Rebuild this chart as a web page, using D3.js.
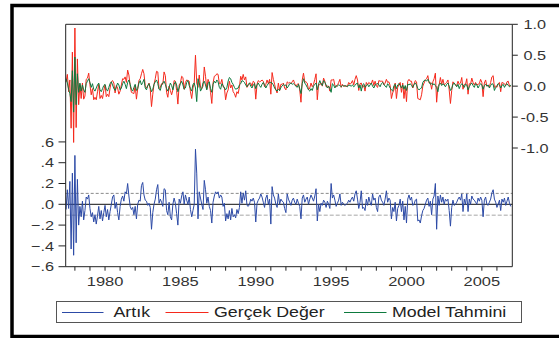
<!DOCTYPE html>
<html>
<head>
<meta charset="utf-8">
<script src="https://cdn.jsdelivr.net/npm/d3@7"></script>
<style>
  body{margin:0;background:#fff;}
  svg{display:block;}
  text{font-family:"Liberation Sans",Arial,sans-serif;}
</style>
</head>
<body>
<svg id="chart"></svg>
<script>
// monthly observations, 1977M06 .. 2006M12
const START_YEAR = 1977, START_MONTH = 6;

const artik = [
  -0.05, 0.14,-0.04, 0.22,-0.43, 0.30,-0.49,
   0.47,-0.37, 0.24,-0.20,-0.02,-0.12, 0.03,-0.15,-0.06, 0.07, 0.05, 0.09,
  -0.04,-0.12,-0.08,-0.17,-0.10,-0.19,-0.11,-0.02,-0.14,-0.06,-0.16,-0.08,
  -0.01,-0.12,-0.05,-0.15,-0.07, 0.00, 0.07, 0.09,-0.04, 0.02,-0.08,-0.15,
  -0.02, 0.05, 0.08, 0.03, 0.12, 0.10, 0.20, 0.08,-0.02,-0.05,-0.03,-0.10,
  -0.02,-0.14, 0.00, 0.04, 0.03, 0.18, 0.21, 0.09, 0.04, 0.03,-0.01, 0.01,
  -0.03,-0.24,-0.08, 0.00, 0.05, 0.14, 0.19, 0.01, 0.05, 0.02,-0.02, 0.15,
   0.14,-0.06,-0.10, 0.02,-0.12,-0.15, 0.00, 0.06, 0.01,-0.09,-0.20, 0.05,
   0.01, 0.08, 0.12, 0.00, 0.09, 0.04, 0.00, 0.07,-0.05,-0.12,-0.06, 0.00,
   0.53, 0.30,-0.14, 0.12, 0.06, 0.00,-0.05, 0.23, 0.14, 0.01, 0.07,-0.02,
  -0.06,-0.18, 0.02, 0.08, 0.12, 0.10, 0.12, 0.06, 0.09, 0.07,-0.02, 0.01,
  -0.16,-0.09,-0.14,-0.06,-0.15,-0.04,-0.12,-0.10,-0.13,-0.05,-0.09,-0.03,
   0.12, 0.01, 0.11, 0.04, 0.13,-0.01,-0.02, 0.00, 0.05, 0.03, 0.06, 0.02,
  -0.17, 0.01, 0.04, 0.06, 0.10, 0.07, 0.02,-0.03, 0.06, 0.09, 0.00, 0.05,
  -0.19, 0.17, 0.09, 0.06, 0.00,-0.03, 0.10, 0.00, 0.05, 0.03, 0.02,-0.04,
  -0.08, 0.10, 0.05, 0.02,-0.01, 0.04, 0.06, 0.02, 0.00, 0.05, 0.01,-0.02,
  -0.14, 0.06, 0.09, 0.02, 0.05, 0.07, 0.00, 0.05, 0.09, 0.06, 0.03, 0.08,
   0.15,-0.16, 0.00,-0.07, 0.01,-0.01, 0.04, 0.02,-0.03, 0.03, 0.00,-0.04,
   0.20, 0.06, 0.09, 0.04,-0.02, 0.01, 0.04, 0.10,-0.01, 0.02, 0.00,-0.01,
   0.00, 0.01, 0.04, 0.02, 0.05, 0.07, 0.03, 0.10, 0.13, 0.05,-0.04, 0.02,
   0.13,-0.04,-0.03,-0.06, 0.05,-0.01, 0.07, 0.02,-0.01, 0.10, 0.04, 0.06,
  -0.03,-0.07, 0.07, 0.09, 0.04, 0.02,-0.01, 0.05, 0.13, 0.02, 0.06, 0.04,
  -0.14,-0.03,-0.07, 0.02,-0.16,-0.04,-0.01, 0.05,-0.07, 0.03,-0.15,-0.02,
  -0.18, 0.05, 0.09, 0.04, 0.07,-0.01, 0.00, 0.04, 0.05,-0.16,-0.15,-0.18,
  -0.11,-0.06,-0.04, 0.00, 0.04, 0.06,-0.02, 0.03,-0.10, 0.05, 0.08, 0.20,
  -0.24, 0.08,-0.01, 0.09, 0.02, 0.07, 0.00, 0.05, 0.03, 0.05,-0.06,-0.21,
  -0.03, 0.04,-0.01, 0.00, 0.02, 0.05, 0.07, 0.04, 0.10,-0.07, 0.05, 0.00,
   0.10,-0.07, 0.05, 0.00, 0.08, 0.05, 0.04, 0.02, 0.00, 0.06, 0.03, 0.07,
   0.04,-0.12, 0.04, 0.07, 0.00,-0.01, 0.02, 0.05, 0.11, 0.14, 0.05, 0.02,
  -0.03, 0.00, 0.04,-0.06, 0.05, 0.02, 0.06,-0.01, 0.03, 0.07, 0.01,-0.02
];

const tahmin = [
   0.12, 0.05,-0.05,-0.12,-0.25, 0.25,-0.42,
   0.47,-0.30, 0.20,-0.10, 0.05,-0.08, 0.02,-0.06,-0.10, 0.04, 0.08, 0.12,
   0.06,-0.02, 0.04,-0.05,-0.08,-0.03, 0.02, 0.05,-0.06,-0.09,-0.04, 0.01,
   0.03,-0.05,-0.08,-0.02, 0.04, 0.07, 0.02,-0.04,-0.07,-0.01, 0.05, 0.02,
  -0.06,-0.03, 0.04, 0.08, 0.03,-0.04, 0.06, 0.10, 0.03,-0.05,-0.08,-0.02,
   0.03,-0.07,-0.04, 0.05, 0.09, 0.02, 0.06, 0.11,-0.03,-0.06, 0.01, 0.04,
  -0.02,-0.09,-0.05, 0.03, 0.07, 0.10, 0.04,-0.05,-0.07, 0.02, 0.05, 0.08,
   0.03,-0.04,-0.08,-0.02, 0.05, 0.01,-0.06, 0.03, 0.07, 0.02,-0.09,-0.03,
   0.04, 0.08, 0.02,-0.05,-0.03, 0.06, 0.09, 0.01,-0.04,-0.08, 0.03, 0.05,
  -0.03,-0.25, 0.12, 0.06,-0.08,-0.04, 0.05, 0.08, 0.02,-0.06, 0.04, 0.07,
  -0.04,-0.10, 0.03, 0.08, 0.05, 0.10, 0.07,-0.02,-0.05, 0.04, 0.01,-0.03,
  -0.06,-0.02, 0.08, 0.14, 0.12, 0.06, 0.03,-0.02,-0.05,-0.04,-0.03, 0.02,
   0.04, 0.09, 0.08, 0.06, 0.02,-0.01, 0.03, 0.05, 0.00,-0.03, 0.02, 0.04,
  -0.04, 0.02, 0.05, 0.01,-0.02, 0.03, 0.06, 0.02,-0.03, 0.01, 0.04, 0.06,
   0.06, 0.05, 0.02,-0.03,-0.06,-0.08,-0.05,-0.07,-0.02, 0.00, 0.03, 0.01,
   0.02,-0.03, 0.00, 0.04, 0.05, 0.03, 0.04, 0.02, 0.00,-0.02, 0.03,-0.04,
  -0.12, 0.04, 0.12, 0.05, 0.02,-0.02,-0.06,-0.08,-0.04,-0.07, 0.00, 0.03,
   0.05,-0.06, 0.03, 0.09, 0.04, 0.01, 0.09, 0.06, 0.02,-0.03, 0.00,-0.04,
  -0.10, 0.04, 0.02,-0.03, 0.01, 0.00, 0.02, 0.01,-0.01, 0.01, 0.00, 0.01,
   0.00,-0.01, 0.02, 0.01, 0.00, 0.02,-0.01, 0.01, 0.04, 0.05,-0.03, 0.02,
  -0.08, 0.02, 0.04,-0.02, 0.01, 0.03,-0.01, 0.02, 0.05, 0.00,-0.03, 0.02,
   0.03, 0.05, 0.02,-0.01, 0.04, 0.06, 0.03, 0.00,-0.02, 0.04, 0.01,-0.03,
  -0.06,-0.08, 0.01, 0.03,-0.04, 0.02, 0.04, 0.01,-0.03, 0.02,-0.05, 0.01,
  -0.07, 0.03, 0.02, 0.04, 0.01,-0.02, 0.03, 0.05, 0.02,-0.04,-0.06,-0.04,
  -0.03, 0.06, 0.09, 0.10, 0.08, 0.11, 0.07, 0.03, 0.05, 0.02, 0.04, 0.01,
  -0.02,-0.09, 0.03, 0.05, 0.01, 0.04, 0.02,-0.01, 0.03, 0.05, 0.00,-0.07,
  -0.04, 0.03, 0.05, 0.02,-0.01, 0.03,-0.04, 0.01, 0.04, 0.02,-0.02, 0.03,
   0.02,-0.06,-0.01, 0.03, 0.05, 0.01,-0.02, 0.04, 0.02,-0.03, 0.01, 0.04,
   0.02,-0.05, 0.01, 0.03, 0.00, 0.02,-0.03, 0.01, 0.04, 0.03,-0.07,-0.02,
   0.01, 0.04, 0.02,-0.03, 0.01, 0.03,-0.02, 0.02, 0.04, 0.01,-0.01, 0.02
];

// gerçek değer = model tahmini + artık
const gercek = tahmin.map((v, i) => v + artik[i]);

const seriesNames = ["Artık", "Gerçek Değer", "Model Tahmini"];
const seriesColors = ["#2c4aa6", "#f5291c", "#0d7a3e"];
const leftTicks = [-0.6, -0.4, -0.2, 0, 0.2, 0.4, 0.6];
const rightTicks = [-1.0, -0.5, 0, 0.5, 1.0];
const yearLabels = [1980, 1985, 1990, 1995, 2000, 2005];
const seBand = 0.105;

const W = 559, H = 338;
const svg = d3.select("#chart").attr("width", W).attr("height", H);

const dates = artik.map((d, i) => START_YEAR + (START_MONTH - 1 + i) / 12);

const x = d3.scaleLinear().domain([1977.39, 2007.02]).range([65.7, 512.3]);
const yLeft = d3.scaleLinear().domain([-0.6, 1.731]).range([266.7, 24.3]);
const yRight = d3.scaleLinear().domain([-2.919, 1.0]).range([266.7, 24.3]);

function label(g, px, py, txt, anchor, size, sx, color){
  return g.append("text")
    .attr("transform", "translate(" + px + "," + py + ") scale(" + sx + ",1)")
    .attr("text-anchor", anchor)
    .attr("font-size", size)
    .attr("fill", color || "#333")
    .text(txt);
}

// outer frame
svg.append("rect")
  .attr("x", 12).attr("y", 5.5).attr("width", 600).attr("height", 331)
  .attr("fill", "none").attr("stroke", "#000").attr("stroke-width", 3.5);

// reference lines of the residual panel
const refs = svg.append("g");
refs.append("line")
  .attr("x1", x.range()[0]).attr("x2", x.range()[1])
  .attr("y1", yLeft(seBand)).attr("y2", yLeft(seBand))
  .attr("stroke", "#8a8a8a").attr("stroke-dasharray", "3,2");
refs.append("line")
  .attr("x1", x.range()[0]).attr("x2", x.range()[1])
  .attr("y1", yLeft(-seBand)).attr("y2", yLeft(-seBand))
  .attr("stroke", "#c4c4c4").attr("stroke-width", 1.4).attr("stroke-dasharray", "4,2");
refs.append("line")
  .attr("x1", x.range()[0]).attr("x2", x.range()[1])
  .attr("y1", yLeft(0)).attr("y2", yLeft(0))
  .attr("stroke", "#111");

const lineLeft = d3.line().x((d, i) => x(dates[i])).y(d => yLeft(d));
const lineRight = d3.line().x((d, i) => x(dates[i])).y(d => yRight(d));

const plot = svg.append("g").attr("fill", "none").attr("stroke-width", 1);
plot.append("path").attr("d", lineLeft(artik)).attr("stroke", seriesColors[0]);
plot.append("path").attr("d", lineRight(gercek)).attr("stroke", seriesColors[1]);
plot.append("path").attr("d", lineRight(tahmin)).attr("stroke", seriesColors[2]);

// plot box: top, left, right, bottom
const frame = svg.append("g").attr("stroke", "#222").attr("fill", "none");
frame.append("path")
  .attr("d", "M" + x.range()[0] + "," + yLeft.range()[0] + "V" + yLeft.range()[1] +
             "H" + x.range()[1] + "V" + yLeft.range()[0] + "H" + x.range()[0]);

// left axis
const axL = svg.append("g");
leftTicks.forEach(v => {
  axL.append("line").attr("x1", 58.5).attr("x2", x.range()[0])
    .attr("y1", yLeft(v)).attr("y2", yLeft(v)).attr("stroke", "#222");
  const s = d3.format(".1f")(v).replace("0.", ".");
  label(axL, 54, yLeft(v) + 4.6, s, "end", 13, 1.25);
});

// right axis
const axR = svg.append("g");
rightTicks.forEach(v => {
  axR.append("line").attr("x1", x.range()[1]).attr("x2", x.range()[1] + 5.5)
    .attr("y1", yRight(v)).attr("y2", yRight(v)).attr("stroke", "#222");
  const s = d3.format(".1f")(v).replace("−", "-");
  label(axR, v < 0 ? 520.5 : 523.5, yRight(v) + 4.6, s, "start", 13, 1.25);
});

// bottom axis: tick every year, label every five
const axB = svg.append("g");
d3.range(1978, 2007).forEach(yr => {
  axB.append("line").attr("x1", x(yr)).attr("x2", x(yr))
    .attr("y1", yLeft.range()[0]).attr("y2", yLeft.range()[0] + 4).attr("stroke", "#222");
});
yearLabels.forEach(yr => label(axB, x(yr), 286.3, String(yr), "middle", 13.5, 1.22));

// legend
const lg = svg.append("g");
lg.append("rect").attr("x", 56.5).attr("y", 301.5).attr("width", 465).attr("height", 21)
  .attr("fill", "#fff").attr("stroke", "#555");
const legendItems = [
  {x0: 62, x1: 103.5, tx: 113.5},
  {x0: 165.5, x1: 208.5, tx: 214},
  {x0: 344, x1: 386.5, tx: 392}
];
legendItems.forEach((it, i) => {
  lg.append("line").attr("x1", it.x0).attr("x2", it.x1)
    .attr("y1", 312.5).attr("y2", 312.5).attr("stroke", seriesColors[i]);
  label(lg, it.tx, 317.3, seriesNames[i], "start", 14, 1.27, "#222");
});
</script>
</body>
</html>
